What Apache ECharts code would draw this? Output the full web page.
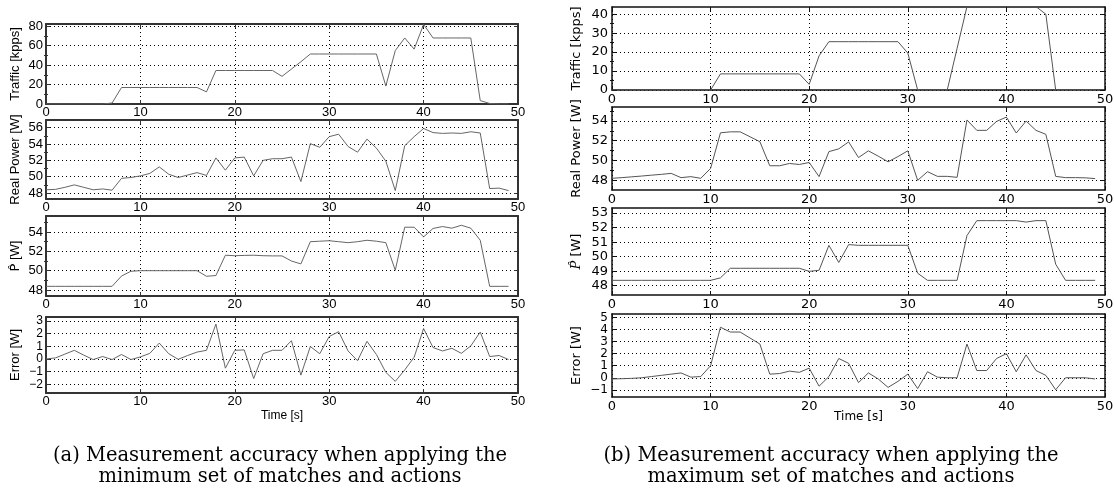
<!DOCTYPE html>
<html>
<head>
<meta charset="utf-8">
<script src="https://cdn.jsdelivr.net/npm/echarts@6/dist/echarts.min.js"></script>
<style>
html, body { margin: 0; padding: 0; background: #fff; }
#main { width: 1114px; height: 492px; }
</style>
</head>
<body>
<div id="main"></div>
<script>
// time axis (s)
const timeS = [0,1,2,3,4,5,6,7,8,9,10,11,12,13,14,15,16,17,18,19,20,21,22,23,24,25,26,27,28,29,30,31,32,33,34,35,36,37,38,39,40,41,42,43,44,45,46,47,48,49];

// (a) minimum set of matches and actions
const trafficA = [0,0,0,0,0,0,0,1,17,17,17,17,17,17,17,17,17,12.5,34.5,34.5,34.5,34.5,34.5,34.5,34.5,28.5,36,43.5,51.5,51.5,51.5,51.5,51.5,51.5,51.5,51.5,18.5,55,68,56.5,82,68,68,68,68,68,3.5,0.5,0,0];
const powerA = [48.4,48.45,48.7,49.0,48.7,48.4,48.5,48.35,49.8,49.9,50.1,50.4,51.2,50.3,49.9,50.2,50.5,50.15,52.3,50.8,52.3,52.4,50.1,52.0,52.2,52.2,52.4,49.4,54.05,53.6,54.9,55.2,53.7,53.0,54.6,53.5,51.9,48.3,53.8,54.9,55.9,55.4,55.3,55.35,55.3,55.5,55.35,48.55,48.6,48.3];
const estA = [48.38,48.38,48.38,48.38,48.38,48.38,48.38,48.38,49.45,49.94,50.0,50.0,50.0,50.0,50.0,50.0,50.0,49.42,49.5,51.6,51.55,51.58,51.6,51.55,51.53,51.53,51.0,50.7,53.0,53.05,53.1,53.0,52.9,53.0,53.15,53.05,52.9,50.04,54.5,54.5,53.5,54.37,54.57,54.4,54.7,54.4,53.15,48.38,48.38,48.38];
const errorA = [0.0,0.08,0.38,0.68,0.3,-0.05,0.19,-0.05,0.35,-0.05,0.16,0.44,1.25,0.41,-0.03,0.27,0.54,0.68,2.75,-0.73,0.68,0.71,-1.55,0.41,0.68,0.68,1.44,-1.28,0.98,0.41,1.77,2.15,0.63,-0.14,1.39,0.35,-1.06,-1.77,-0.87,0.14,2.4,0.9,0.63,0.84,0.44,1.03,2.12,0.19,0.27,-0.05];

// (b) maximum set of matches and actions
const trafficB = [0,0,0,0,0,0,0,0,0,0,0,8.5,8.5,8.5,8.5,8.5,8.5,8.5,8.5,8.5,3,18,25.5,25.5,25.5,25.5,25.5,25.5,25.5,25.5,19.5,0,0,0,0,22,44,44,44,44,44,44,44,44,40,0,0,0,0,0];
const powerB = [48.2,48.27,48.35,48.43,48.52,48.6,48.7,48.27,48.37,48.2,49.2,52.8,52.9,52.9,52.4,51.9,49.47,49.47,49.7,49.6,49.8,48.37,50.9,51.18,51.88,50.3,50.98,50.44,49.87,50.4,50.98,48.0,48.87,48.4,48.4,48.3,54.1,53.05,53.05,53.95,54.39,52.78,53.99,53.05,52.65,48.4,48.27,48.27,48.25,48.17];
const estB = [48.37,48.37,48.37,48.37,48.37,48.37,48.37,48.37,48.37,48.37,48.37,48.54,49.2,49.2,49.2,49.2,49.2,49.2,49.2,49.2,48.99,49.06,50.78,49.6,50.83,50.78,50.78,50.78,50.78,50.78,50.78,48.86,48.37,48.37,48.37,48.37,51.45,52.48,52.48,52.48,52.48,52.48,52.38,52.48,52.48,49.48,48.37,48.37,48.37,48.37];
const errorB = [-0.1,-0.08,-0.05,0.0,0.1,0.2,0.3,0.4,0.05,0.1,1.0,4.2,3.8,3.8,3.3,2.8,0.3,0.35,0.55,0.45,0.8,-0.7,0.1,1.6,1.2,-0.4,0.4,-0.1,-0.8,-0.3,0.3,-0.9,0.5,0.05,0.0,0.0,2.8,0.6,0.6,1.6,2.0,0.5,1.9,0.6,0.2,-1.0,0.0,0.0,0.0,-0.1];

// tick labels
const ticksTrafficA = [0,20,40,60,80];
const ticksPowerA = [48,50,52,54,56];
const ticksEstA = [48,50,52,54];
const ticksErrorA = [-2,-1,0,1,2,3];
const ticksTrafficB = [0,10,20,30,40];
const ticksPowerB = [48,50,52,54];
const ticksEstB = [48,49,50,51,52,53];
const ticksErrorB = [-1,0,1,2,3,4,5];

const styleA = { font: 'Liberation Sans', size: 13, frame: '#333', frameW: 2, line: '#666', xMargin: 2, yMargin: 3, nameGap: 24, timeGap: 17 };
const styleB = { font: 'DejaVu Sans', size: 13, frame: '#111', frameW: 1.5, line: '#555', xMargin: 3, yMargin: 4, nameGap: 29, timeGap: 14 };

let grids = [], xAxes = [], yAxes = [], series = [];

function addPanel(p) {
    let gi = grids.length;
    let c = p.style;
    grids.push({ left: p.left, top: p.top, width: p.width, height: p.height, containLabel: false, outerBoundsMode: 'none' });
    let axLine = () => ({ show: true, onZero: false, lineStyle: { color: c.frame, width: c.frameW } });
    let tick = () => ({ show: true, inside: true, length: 4, lineStyle: { color: c.frame, width: 1 } });
    let lbl = () => ({ fontFamily: c.font, fontSize: p.labelSize || c.size, color: '#000' });
    let dots = () => ({ show: true, lineStyle: { color: '#000', width: 1, type: [1, 3] } });
    let off = () => ({ silent: true, triggerEvent: false, splitArea: { show: false }, axisPointer: { show: false } });

    let xi = xAxes.length;
    xAxes.push(Object.assign({
        gridIndex: gi, type: 'value', min: 0, max: 50, interval: 10, position: 'bottom',
        axisLine: axLine(), axisTick: tick(),
        axisLabel: Object.assign(lbl(), { margin: c.xMargin, fontSize: c.size, showMinLabel: true, showMaxLabel: true }),
        splitLine: dots(),
        name: p.xName || '', nameLocation: 'middle', nameGap: c.timeGap, nameMoveOverlap: false,
        nameTextStyle: { fontFamily: c.font, fontSize: 12, color: '#000' }
    }, off()));
    xAxes.push(Object.assign({
        gridIndex: gi, type: 'value', min: 0, max: 50, interval: 10, position: 'top',
        axisLine: axLine(), axisTick: tick(), axisLabel: { show: false }, splitLine: { show: false }
    }, off()));

    let yi = yAxes.length;
    yAxes.push(Object.assign({
        gridIndex: gi, type: 'value', min: p.min, max: p.max, position: 'left',
        axisLine: axLine(), axisTick: Object.assign(tick(), { customValues: p.ticks }),
        axisLabel: Object.assign(lbl(), { margin: c.yMargin, customValues: p.ticks, showMinLabel: true, showMaxLabel: true, hideOverlap: false,
            formatter: v => String(v).replace('-', '\u2212') }),
        splitLine: dots(),
        name: p.name, nameLocation: 'middle', nameGap: c.nameGap, nameMoveOverlap: false,
        nameTextStyle: Object.assign({ fontFamily: c.font, fontSize: 13, color: '#000' }, p.nameStyle || {})
    }, off()));
    yAxes.push(Object.assign({
        gridIndex: gi, type: 'value', min: p.min, max: p.max, position: 'right',
        axisLine: axLine(), axisTick: Object.assign(tick(), { customValues: p.ticks }),
        axisLabel: { show: false }, splitLine: { show: false }
    }, off()));
    if (p.minor) {
        ['left', 'right'].forEach(pos => {
            yAxes.push(Object.assign({
                gridIndex: gi, type: 'value', min: p.min, max: p.max, position: pos,
                axisLine: { show: false },
                axisTick: { show: true, inside: true, length: 2, customValues: p.minor, lineStyle: { color: c.frame, width: 1 } },
                axisLabel: { show: false }, splitLine: { show: false }
            }, off()));
        });
    }

    series.push({
        type: 'line', xAxisIndex: xi, yAxisIndex: yi,
        data: timeS.map((t, i) => [t, p.data[i]]),
        showSymbol: false, silent: true, animation: false,
        emphasis: { disabled: true },
        lineStyle: { color: c.line, width: 1 }
    });
}

// left column
addPanel({ style: styleA, left: 46, width: 472, top: 24, height: 80, data: trafficA, min: 0, max: 82.4, ticks: ticksTrafficA, minor: [10,30,50,70], name: 'Traffic [kpps]' });
addPanel({ style: styleA, left: 46, width: 472, top: 120, height: 79, data: powerA, min: 47.27, max: 56.94, ticks: ticksPowerA, minor: [49,51,53,55], name: 'Real Power [W]' });
addPanel({ style: styleA, left: 46, width: 472, top: 216, height: 80, data: estA, min: 47.38, max: 55.66, ticks: ticksEstA, minor: [49,51,53,55], name: '{p|P\u0302} [W]',
    nameStyle: { rich: { p: { fontFamily: 'DejaVu Sans', fontSize: 13 } } } });
addPanel({ style: styleA, left: 46, width: 472, top: 317, height: 76, data: errorA, min: -2.69, max: 3.31, ticks: ticksErrorA, labelSize: 12, name: 'Error [W]', xName: 'Time [s]' });

// right column
addPanel({ style: styleB, left: 612, width: 493, top: 7, height: 83, data: trafficB, min: 0, max: 43.8, ticks: ticksTrafficB, minor: [5,15,25,35], name: 'Traffic [kpps]' });
addPanel({ style: styleB, left: 612, width: 493, top: 107, height: 83, data: powerB, min: 47.02, max: 55.41, ticks: ticksPowerB, minor: [47,49,51,53,55], name: 'Real Power [W]' });
addPanel({ style: styleB, left: 612, width: 493, top: 208, height: 87, data: estB, min: 47.36, max: 53.35, ticks: ticksEstB, name: '{i|P\u0302} [W]',
    nameStyle: { rich: { i: { fontFamily: 'DejaVu Serif', fontStyle: 'italic', fontSize: 13 } } } });
addPanel({ style: styleB, left: 612, width: 493, top: 314, height: 83, data: errorB, min: -1.6, max: 5.3, ticks: ticksErrorB, labelSize: 12, name: 'Error [W]', xName: 'Time [s]' });

let myChart = echarts.init(document.getElementById('main'));
myChart.setOption({
    animation: false,
    backgroundColor: '#fff',
    tooltip: { show: false },
    axisPointer: { show: false, triggerOn: 'none' },
    grid: grids,
    xAxis: xAxes,
    yAxis: yAxes,
    series: series,
    graphic: [
        { type: 'text', x: 280, y: 445, silent: true, style: { text: '(a) Measurement accuracy when applying the\nminimum set of matches and actions',
            align: 'center', verticalAlign: 'top', font: '19.5px "DejaVu Serif"', lineHeight: 21, fill: '#000' } },
        { type: 'text', x: 831, y: 445, silent: true, style: { text: '(b) Measurement accuracy when applying the\nmaximum set of matches and actions',
            align: 'center', verticalAlign: 'top', font: '19.5px "DejaVu Serif"', lineHeight: 21, fill: '#000' } }
    ]
});
</script>
</body>
</html>
